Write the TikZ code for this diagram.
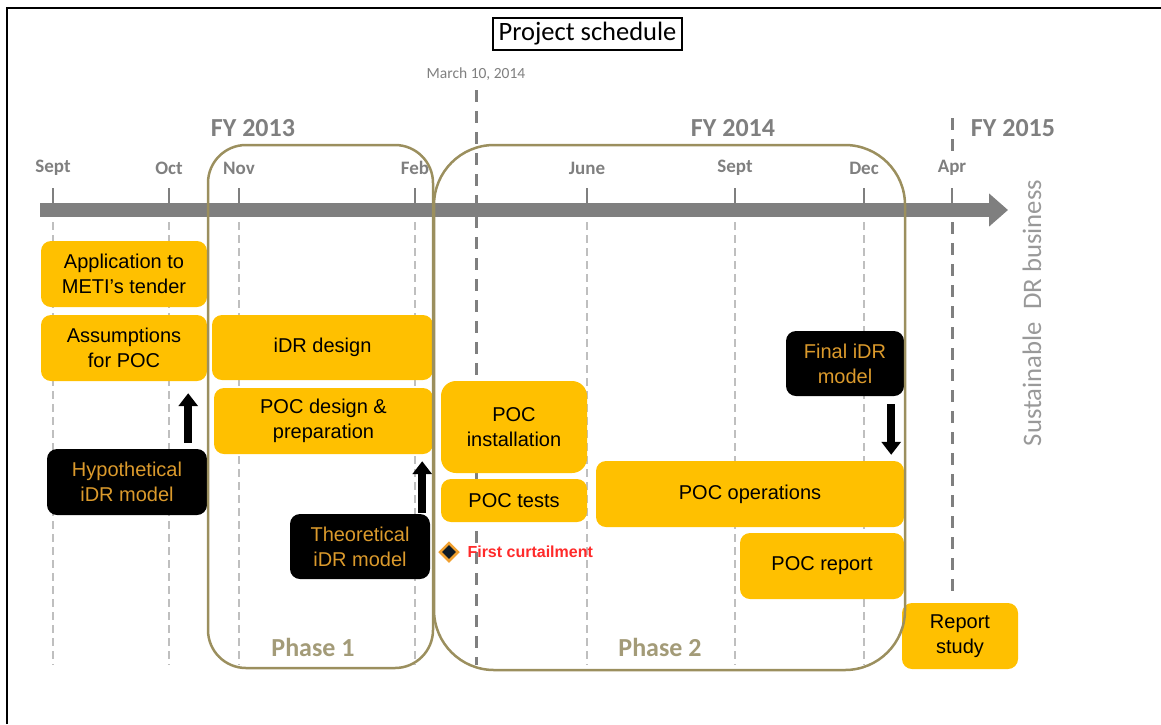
\documentclass[tikz,border=0pt]{standalone}
\usepackage{fontspec}
\setmainfont{Carlito}
\newfontfamily\arialf{Liberation Sans}
\usetikzlibrary{arrows.meta,calc,shapes.geometric}
\definecolor{gold}{HTML}{FFC000}
\definecolor{amber}{HTML}{DB9A2C}
\definecolor{tgray}{HTML}{7F7F7F}
\definecolor{lgray}{HTML}{BFBFBF}
\definecolor{olive}{HTML}{9B8F5E}
\definecolor{phasetxt}{HTML}{A39B78}
\definecolor{sgray}{HTML}{999999}
\definecolor{redtxt}{HTML}{FF2A2A}
\definecolor{diamfill}{HTML}{0D1A26}
\definecolor{diamedge}{HTML}{F0A030}
\tikzset{
  boxfont/.style={font=\arialf\fontsize{20}{25}\selectfont},
  obox/.style={boxfont, fill=gold, rounded corners=10pt, align=center, inner sep=0pt, text=black},
  bbox/.style={boxfont, fill=black, rounded corners=10pt, align=center, inner sep=0pt, text=amber},
  mlabel/.style={font=\bfseries\fontsize{19}{22}\selectfont, text=tgray},
  fylabel/.style={font=\bfseries\fontsize{26}{30}\selectfont, text=tgray},
  phaselabel/.style={font=\bfseries\fontsize{26}{30}\selectfont, text=phasetxt},
  phasebox/.style={draw=olive, line width=2.5pt},
  gridline/.style={draw=lgray, line width=2pt, dash pattern=on 8pt off 5pt},
  keyline/.style={draw=tgray, line width=3pt, dash pattern=on 12pt off 9pt},
  tickline/.style={draw=tgray, line width=2.5pt},
  bigarrow/.style={draw=black, line width=8pt, -{Triangle[width=19pt,length=13pt]}},
}
\begin{document}
\begin{tikzpicture}[x=1pt,y=-1pt]
\useasboundingbox (0,0) rectangle (1161,724);
% frame
\draw[line width=2pt] (7,724) -- (7,8) -- (1161,8);
% title
\node[draw=black, line width=1.5pt, minimum width=189pt, minimum height=32pt, inner sep=0pt,
      font=\fontsize{26.5}{30}\selectfont] (title) at (587.5,34) {Project schedule};
% grid lines
\foreach \x in {53,169,239,415,587,735,864}
  \draw[gridline] (\x,222) -- (\x,665);
\draw[keyline] (952,118) -- (952,158);
\draw[keyline] (952,222) -- (952,595);
\draw[keyline] (476,90) -- (476,665);
% timeline
\coordinate (tl0) at (40,210);
\coordinate (tl1) at (1008,210);
\draw[draw=tgray, line width=14pt, -{Triangle[width=32pt,length=19pt]}] (tl0) -- (tl1);
\foreach \x/\m in {53/Sept,169/Oct,239/Nov,415/Feb,587/June,735/Sept,864/Dec,952/Apr}{
  \draw[tickline] (\x,188) -- (\x,210);
  \node[mlabel] (m\x) at (\x,168) {\m};
}
\node[font=\fontsize{15.5}{18}\selectfont, text=tgray] (march) at (476,74) {March 10, 2014};
\node[fylabel] (fy13) at (253,128) {FY 2013};
\node[fylabel] (fy14) at (733,128) {FY 2014};
\node[fylabel] (fy15) at (1013,128) {FY 2015};
\node[rotate=90, font=\fontsize{26.7}{30}\selectfont, text=sgray] (sdr) at (1032,313) {Sustainable\ \ DR business};
% boxes
\node[obox, minimum width=166pt, minimum height=66pt] (app) at (124,274) {Application to\\METI’s tender};
\node[obox, minimum width=166pt, minimum height=66pt] (assum) at (124,348) {Assumptions\\for POC};
\node[obox, minimum width=221pt, minimum height=65pt] (idr) at (322.5,347.5) {iDR design};
\node[obox, minimum width=219pt, minimum height=66pt] (pocdes) at (323.5,421) {POC design \&\\preparation};
\node[obox, minimum width=146pt, minimum height=92pt, rounded corners=15pt] (pocinst) at (514,427) {POC\\installation};
\node[obox, minimum width=146pt, minimum height=43pt] (poctests) at (514,500.5) {POC tests};
\node[obox, minimum width=308pt, minimum height=66pt] (pocops) at (750,494) {POC operations};
\node[obox, minimum width=164pt, minimum height=66pt] (pocrep) at (822,566) {POC report};
\node[obox, minimum width=116pt, minimum height=66pt] (repstudy) at (960,636) {Report\\study};
\node[bbox, minimum width=160pt, minimum height=66pt] (hyp) at (127,482) {Hypothetical\\iDR model};
\node[bbox, minimum width=140pt, minimum height=65pt] (theo) at (360,546.5) {Theoretical\\iDR model};
\node[bbox, minimum width=118pt, minimum height=65pt] (final) at (845,363.5) {Final iDR\\model};
% phases
\draw[phasebox, rounded corners=38pt] (208,145) rectangle (433,668);
\draw[phasebox, rounded corners=60pt] (434,145) rectangle (905,670);
\node[phaselabel] (ph1) at (313,647) {Phase 1};
\node[phaselabel] (ph2) at (660,647) {Phase 2};
% arrows
\draw[bigarrow] ($(hyp.north east)+(-19,-6)$) -- ($(assum.south east)+(-19,12)$);
\draw[bigarrow] ($(theo.north east)+(-8,-1)$) -- ($(pocdes.south east)+(-11,7)$);
\draw[bigarrow] ($(final.south east)+(-13,8)$) -- ($(pocops.north east)+(-13,-6)$);
% first curtailment
\node[diamond, fill=diamfill, draw=diamedge, line width=2.5pt, minimum size=19pt, inner sep=0pt] (diam) at (449,552) {};
\node[font=\arialf\bfseries\fontsize{16}{19}\selectfont, text=redtxt, anchor=west] (fc) at (464,552) {First curtailment};
\end{tikzpicture}
\end{document}
